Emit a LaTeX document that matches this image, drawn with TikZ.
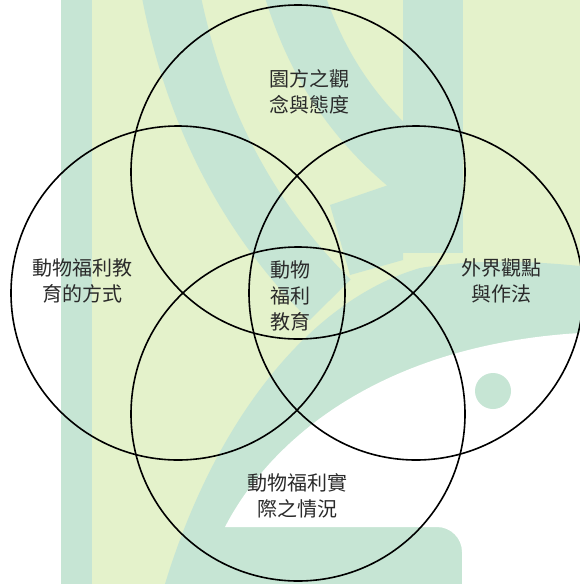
\documentclass[tikz,border=0pt]{standalone}
\usepackage{fontspec}
\setmainfont{Noto Sans CJK TC}
\usetikzlibrary{positioning}

\definecolor{leaf}{HTML}{E4F2CB}
\definecolor{mint}{HTML}{C6E5D4}
\definecolor{ink}{HTML}{2A2A2A}

\begin{document}
\begin{tikzpicture}[x=1pt, y=-1pt,
    venn/.style={circle, draw, line width=1.6pt, minimum size=334pt, inner sep=0pt},
    txt/.style={align=center, text=ink, inner sep=0pt, font=\fontsize{20}{26}\selectfont},
    band/.style={draw=mint, line width=#1, line cap=butt}]
  \useasboundingbox (0,0) rectangle (580,584);

  % watermark in the back
  \fill[leaf] (61,0) rectangle (580,584);
  \fill[mint] (61,0) rectangle (92,584);
  \begin{scope}
    \clip (92,0) rectangle (403,340);
    \draw[band=58pt] (170,-10) .. controls (195,120) and (250,220) .. (330,300);
    \draw[band=58pt] (293,-10) .. controls (315,60) and (350,120) .. (420,175);
    \fill[mint] (330,205) -- (403,180) -- (403,260) -- (350,275) -- cycle;
  \end{scope}
  \fill[mint] (403,0) rectangle (463,253);
  \fill[mint] (165,584) .. controls (215,420) and (310,300) .. (420,268)
    .. controls (480,258) and (540,262) .. (580,266) -- (580,584) -- cycle;
  \fill[white] (225,527) .. controls (270,440) and (380,345) .. (580,333)
    -- (580,584) -- (462,584) [rounded corners=25pt] -- (462,527) [sharp corners] -- cycle;
  \fill[mint] (493,391) circle (18);

  % circles
  \node[venn] (view) at (298,172) {};
  \node[venn] (way) at (178,293) {};
  \node[venn] (out) at (416,293) {};
  \node[venn] (real) at (298,414) {};

  % labels
  \node[txt] (viewtxt) at (309,92) {園方之觀\\念與態度};
  \node[txt] (waytxt) at (82,281) {動物福利教\\育的方式};
  \node[txt] (outtxt) at (501,281) {外界觀點\\與作法};
  \node[txt] (realtxt) at (297,496) {動物福利實\\際之情況};
  \node[txt] (core) at (290,296) {動物\\福利\\教育};
\end{tikzpicture}
\end{document}
